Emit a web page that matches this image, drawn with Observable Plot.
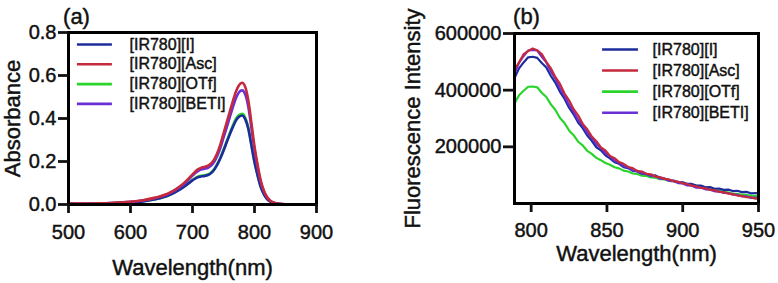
<!DOCTYPE html>
<html>
<head>
<meta charset="utf-8">
<script src="https://cdn.jsdelivr.net/npm/d3@7"></script>
<script src="https://cdn.jsdelivr.net/npm/@observablehq/plot@0.6"></script>
<style>
  html, body { margin: 0; padding: 0; background: #fff; }
  #wrap { display: flex; width: 778px; height: 283px; }
  #wrap svg { display: block; }
  #wrap svg text { stroke: #111; stroke-width: 0.45px; }
</style>
</head>
<body>
<div id="wrap"></div>
<script>
// ---------- Series ----------
const seriesNames = ["[IR780][I]", "[IR780][Asc]", "[IR780][OTf]", "[IR780][BETI]"];
const seriesColors = ["#1c2c9c", "#c42a3c", "#2bd42b", "#6b2fd6"];

// ---------- Panel (a): absorbance ----------
const absWavelengths = [500,520,540,560,580,600,620,640,660,680,690,700,705,710,715,720,725,730,735,740,745,750,755,760,765,770,775,780,785,790,795,800,805,810,815,820,825,830,840,850,870,900];
const absI    = [0.001,0.001,0.002,0.003,0.005,0.008,0.014,0.024,0.04,0.07,0.09,0.112,0.122,0.128,0.131,0.133,0.137,0.146,0.162,0.185,0.215,0.25,0.288,0.325,0.36,0.39,0.408,0.414,0.397,0.352,0.275,0.197,0.135,0.082,0.048,0.026,0.014,0.007,0.002,0,0,0];
const absAsc  = [0.004,0.004,0.005,0.006,0.009,0.013,0.02,0.032,0.05,0.085,0.11,0.14,0.155,0.166,0.172,0.176,0.181,0.191,0.21,0.24,0.28,0.33,0.38,0.43,0.48,0.525,0.555,0.566,0.547,0.485,0.38,0.27,0.185,0.112,0.065,0.036,0.019,0.01,0.003,0.001,0,0];
const absOTf  = [0.002,0.002,0.003,0.004,0.006,0.009,0.015,0.025,0.041,0.071,0.092,0.114,0.124,0.131,0.134,0.136,0.14,0.149,0.165,0.189,0.219,0.255,0.293,0.331,0.367,0.398,0.416,0.422,0.405,0.358,0.279,0.2,0.137,0.083,0.049,0.027,0.014,0.007,0.002,0,0,0];
const absBETI = [0.004,0.004,0.005,0.006,0.009,0.012,0.019,0.03,0.048,0.082,0.105,0.134,0.148,0.158,0.164,0.167,0.171,0.181,0.199,0.227,0.264,0.311,0.357,0.405,0.452,0.494,0.522,0.531,0.513,0.455,0.357,0.255,0.174,0.105,0.061,0.034,0.018,0.009,0.003,0.001,0,0];
const absXTicks = [500, 600, 700, 800, 900];
const absYTicks = [0, 0.2, 0.4, 0.6, 0.8];

// ---------- Panel (b): fluorescence (values in thousands) ----------
const flWavelengths = [789,792,795,798,801,804,807,810,813,816,819,822,825,828,831,834,837,840,843,846,849,852,855,858,861,864,867,870,873,876,879,882,885,888,891,894,897,900,903,906,909,912,915,918,921,924,927,930,933,936,939,942,945,948,951];
const flI    = [443,477,498,516,518,514,496,480,450,426,394,370,338,315,286,266,240,221,198,188,170,159,146,140,128,125,115,113,105,104,97,99,90,88,82,81,75,75,69,69,63,63,57,58,52,53,48,49,44,45,40,41,36,37,34];
const flAsc  = [472,498,527,538,547,541,527,500,477,446,422,388,364,333,311,281,262,236,220,198,187,168,160,146,140,129,125,115,113,105,103,95,93,87,85,79,77,71,69,63,61,55,54,48,47,41,40,35,33,28,27,22,22,17,17];
const flOTf  = [353,382,398,412,413,410,391,376,350,330,302,284,258,241,218,205,186,175,161,153,143,137,128,124,116,113,106,104,98,97,92,91,86,85,80,79,74,73,68,67,62,61,56,55,48,46,41,39,35,34,31,30,28,27,25];
const flBETI = [458,497,520,540,542,540,518,498,466,440,406,380,348,324,295,275,249,232,209,196,177,167,151,145,132,128,117,115,106,105,97,96,88,87,80,79,72,71,64,63,56,56,50,49,43,43,37,37,31,31,25,25,20,21,17];
const flXTicks = [800, 850, 900, 950];
const flYTicks = [200, 400, 600];

// ---------- helpers ----------
const FONT = "'Liberation Sans', Arial, Helvetica, sans-serif";
const absSeries = [absI, absAsc, absOTf, absBETI];
const flSeries = [flI, flAsc, flOTf, flBETI];
const drawOrder = [2, 0, 3, 1]; // OTf, I, BETI, Asc (Asc on top)

function table(xs, ys) { return xs.map((x, i) => ({x, y: ys[i]})); }

function legendMarks(xDom, yDom, lx1, lx2, lxt, ly0, lstep, sw) {
  const fx = f => xDom[0] + f * (xDom[1] - xDom[0]);
  const fy = f => yDom[1] - f * (yDom[1] - yDom[0]);
  const marks = [];
  seriesNames.forEach((name, i) => {
    const yv = fy(ly0 + i * lstep);
    marks.push(Plot.ruleY([yv], {x1: fx(lx1), x2: fx(lx2), stroke: seriesColors[i], strokeWidth: sw}));
    marks.push(Plot.text([name], {x: fx(lxt), y: yv, text: d => d, textAnchor: "start", lineAnchor: "middle", fontSize: 16, fill: "#111"}));
  });
  return marks;
}

// ---------- Panel (a) ----------
const aX = [500, 900], aY = [0, 0.8];
const plotA = Plot.plot({
  width: 390, height: 283,
  marginLeft: 68, marginRight: 74, marginTop: 32, marginBottom: 79,
  style: {fontFamily: FONT, background: "white", color: "#111", overflow: "visible"},
  x: {domain: aX, label: null},
  y: {domain: aY, label: null},
  marks: [
    ...drawOrder.map(i => Plot.line(table(absWavelengths, absSeries[i]), {x: "x", y: "y", stroke: seriesColors[i], strokeWidth: 2.6, curve: "monotone-x", clip: true})),
    ...legendMarks(aX, aY, 0.036, 0.177, 0.246, 0.07, 0.115, 2.6),
    Plot.frame({stroke: "black", strokeWidth: 3}),
    Plot.axisX(absXTicks, {tickSize: 9, tickPadding: 11, fontSize: 20, strokeWidth: 2.8, tickFormat: d3.format("d"), label: null}),
    Plot.axisY(absYTicks, {tickSize: 10, tickPadding: 2, fontSize: 20, strokeWidth: 2.8, tickFormat: d3.format(".1f"), label: null}),
    Plot.text(["Wavelength(nm)"], {text: d => d, frameAnchor: "bottom", dy: 63, textAnchor: "middle", lineAnchor: "middle", fontSize: 22}),
    Plot.text(["Absorbance"], {text: d => d, frameAnchor: "left", dx: -56, rotate: -90, textAnchor: "middle", lineAnchor: "middle", fontSize: 22}),
    Plot.text(["(a)"], {text: d => d, frameAnchor: "top-left", dx: 8, dy: -16, textAnchor: "middle", lineAnchor: "middle", fontSize: 22})
  ]
});

// ---------- Panel (b) ----------
const bX = [789, 950], bY = [0, 600];
const plotB = Plot.plot({
  width: 388, height: 283,
  marginLeft: 124, marginRight: 20, marginTop: 33, marginBottom: 80,
  style: {fontFamily: FONT, background: "white", color: "#111", overflow: "visible"},
  x: {domain: bX, label: null},
  y: {domain: bY, label: null},
  marks: [
    ...drawOrder.map(i => Plot.line(table(flWavelengths, flSeries[i]), {x: "x", y: "y", stroke: seriesColors[i], strokeWidth: 2.2, clip: true})),
    ...legendMarks(bX, bY, 0.361, 0.508, 0.566, 0.094, 0.124, 2.6),
    Plot.frame({stroke: "black", strokeWidth: 3}),
    Plot.axisX(flXTicks, {tickSize: 9, tickPadding: 10, fontSize: 20, strokeWidth: 2.8, tickFormat: d3.format("d"), label: null}),
    Plot.axisY(flYTicks, {tickSize: 11, tickPadding: 2, fontSize: 20, strokeWidth: 2.8, tickFormat: d => `${d}000`, label: null}),
    Plot.text(["Wavelength(nm)"], {text: d => d, frameAnchor: "bottom", dy: 50, textAnchor: "middle", lineAnchor: "middle", fontSize: 22}),
    Plot.text(["Fluorescence Intensity"], {text: d => d, frameAnchor: "left", dx: -102, rotate: -90, textAnchor: "middle", lineAnchor: "middle", fontSize: 22}),
    Plot.text(["(b)"], {text: d => d, frameAnchor: "top-left", dx: 12, dy: -17, textAnchor: "middle", lineAnchor: "middle", fontSize: 22})
  ]
});

document.getElementById("wrap").append(plotA, plotB);
</script>
</body>
</html>
